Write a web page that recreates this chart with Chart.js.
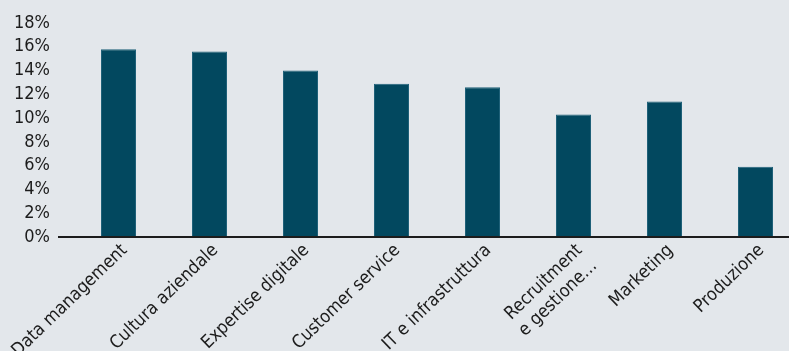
<!DOCTYPE html>
<html>
<head>
<meta charset="utf-8">
<script src="https://cdn.jsdelivr.net/npm/chart.js@4"></script>
<style>
  html, body { margin: 0; padding: 0; background: #e3e7eb; overflow: hidden; }
  #wrap { width: 810px; height: 351px; }
</style>
</head>
<body>
<div id="wrap"><canvas id="chart"></canvas></div>
<script>
// ── Data ───────────────────────────────────────────────────────────────────
const categories = [
  'Data management', 'Cultura aziendale', 'Expertise digitale', 'Customer service',
  'IT e infrastruttura', ['Recruitment', 'e gestione…'], 'Marketing', 'Produzione'
];
const shares = [15.8, 15.6, 14.0, 12.9, 12.6, 10.3, 11.4, 5.9];
const yTicks = [0, 2, 4, 6, 8, 10, 12, 14, 16, 18];

const FONT = "'DejaVu Sans Condensed', 'Liberation Sans Narrow', sans-serif";
const INK = '#1c1c1c';

// ── Chart ──────────────────────────────────────────────────────────────────
new Chart(document.getElementById('chart'), {
  type: 'bar',
  data: {
    labels: categories,
    datasets: [{
      data: shares,
      backgroundColor: '#02485f',
      borderColor: '#1f6179',
      borderWidth: 1,
      barPercentage: 0.385,
      categoryPercentage: 1,
    }],
  },
  options: {
    responsive: true,
    maintainAspectRatio: false,
    animation: false,
    layout: { padding: { top: 23, right: 9, left: 0, bottom: 0 } },
    plugins: { legend: { display: false }, tooltip: { enabled: false } },
    scales: {
      x: {
        grid: { display: false },
        border: { display: false },
        ticks: {
          color: INK,
          font: { family: FONT, size: 18 },
          minRotation: 44,
          maxRotation: 44,
          autoSkip: false,
          padding: -5,
          labelOffset: 6,
        },
        // keep the plot area fixed: no extra room for the rotated first label
        afterFit: s => { s.height = 114; s.paddingLeft = 0; s.paddingRight = 0; },
      },
      y: {
        min: 0,
        max: 18,
        afterBuildTicks: s => { s.ticks = yTicks.map(v => ({ value: v })); },
        border: { display: false },
        grid: {
          // only the 0% baseline is drawn, extended left past the plot area
          color: c => (c.tick && c.tick.value === 0 ? INK : 'transparent'),
          tickColor: c => (c.tick && c.tick.value === 0 ? INK : 'transparent'),
          lineWidth: 2,
          tickLength: 15,
        },
        ticks: {
          color: INK,
          font: { family: FONT, size: 18 },
          padding: 8,
          autoSkip: false,
          callback: v => v + '%',
        },
        afterFit: s => { s.width = 73; },
      },
    },
  },
});
</script>
</body>
</html>
